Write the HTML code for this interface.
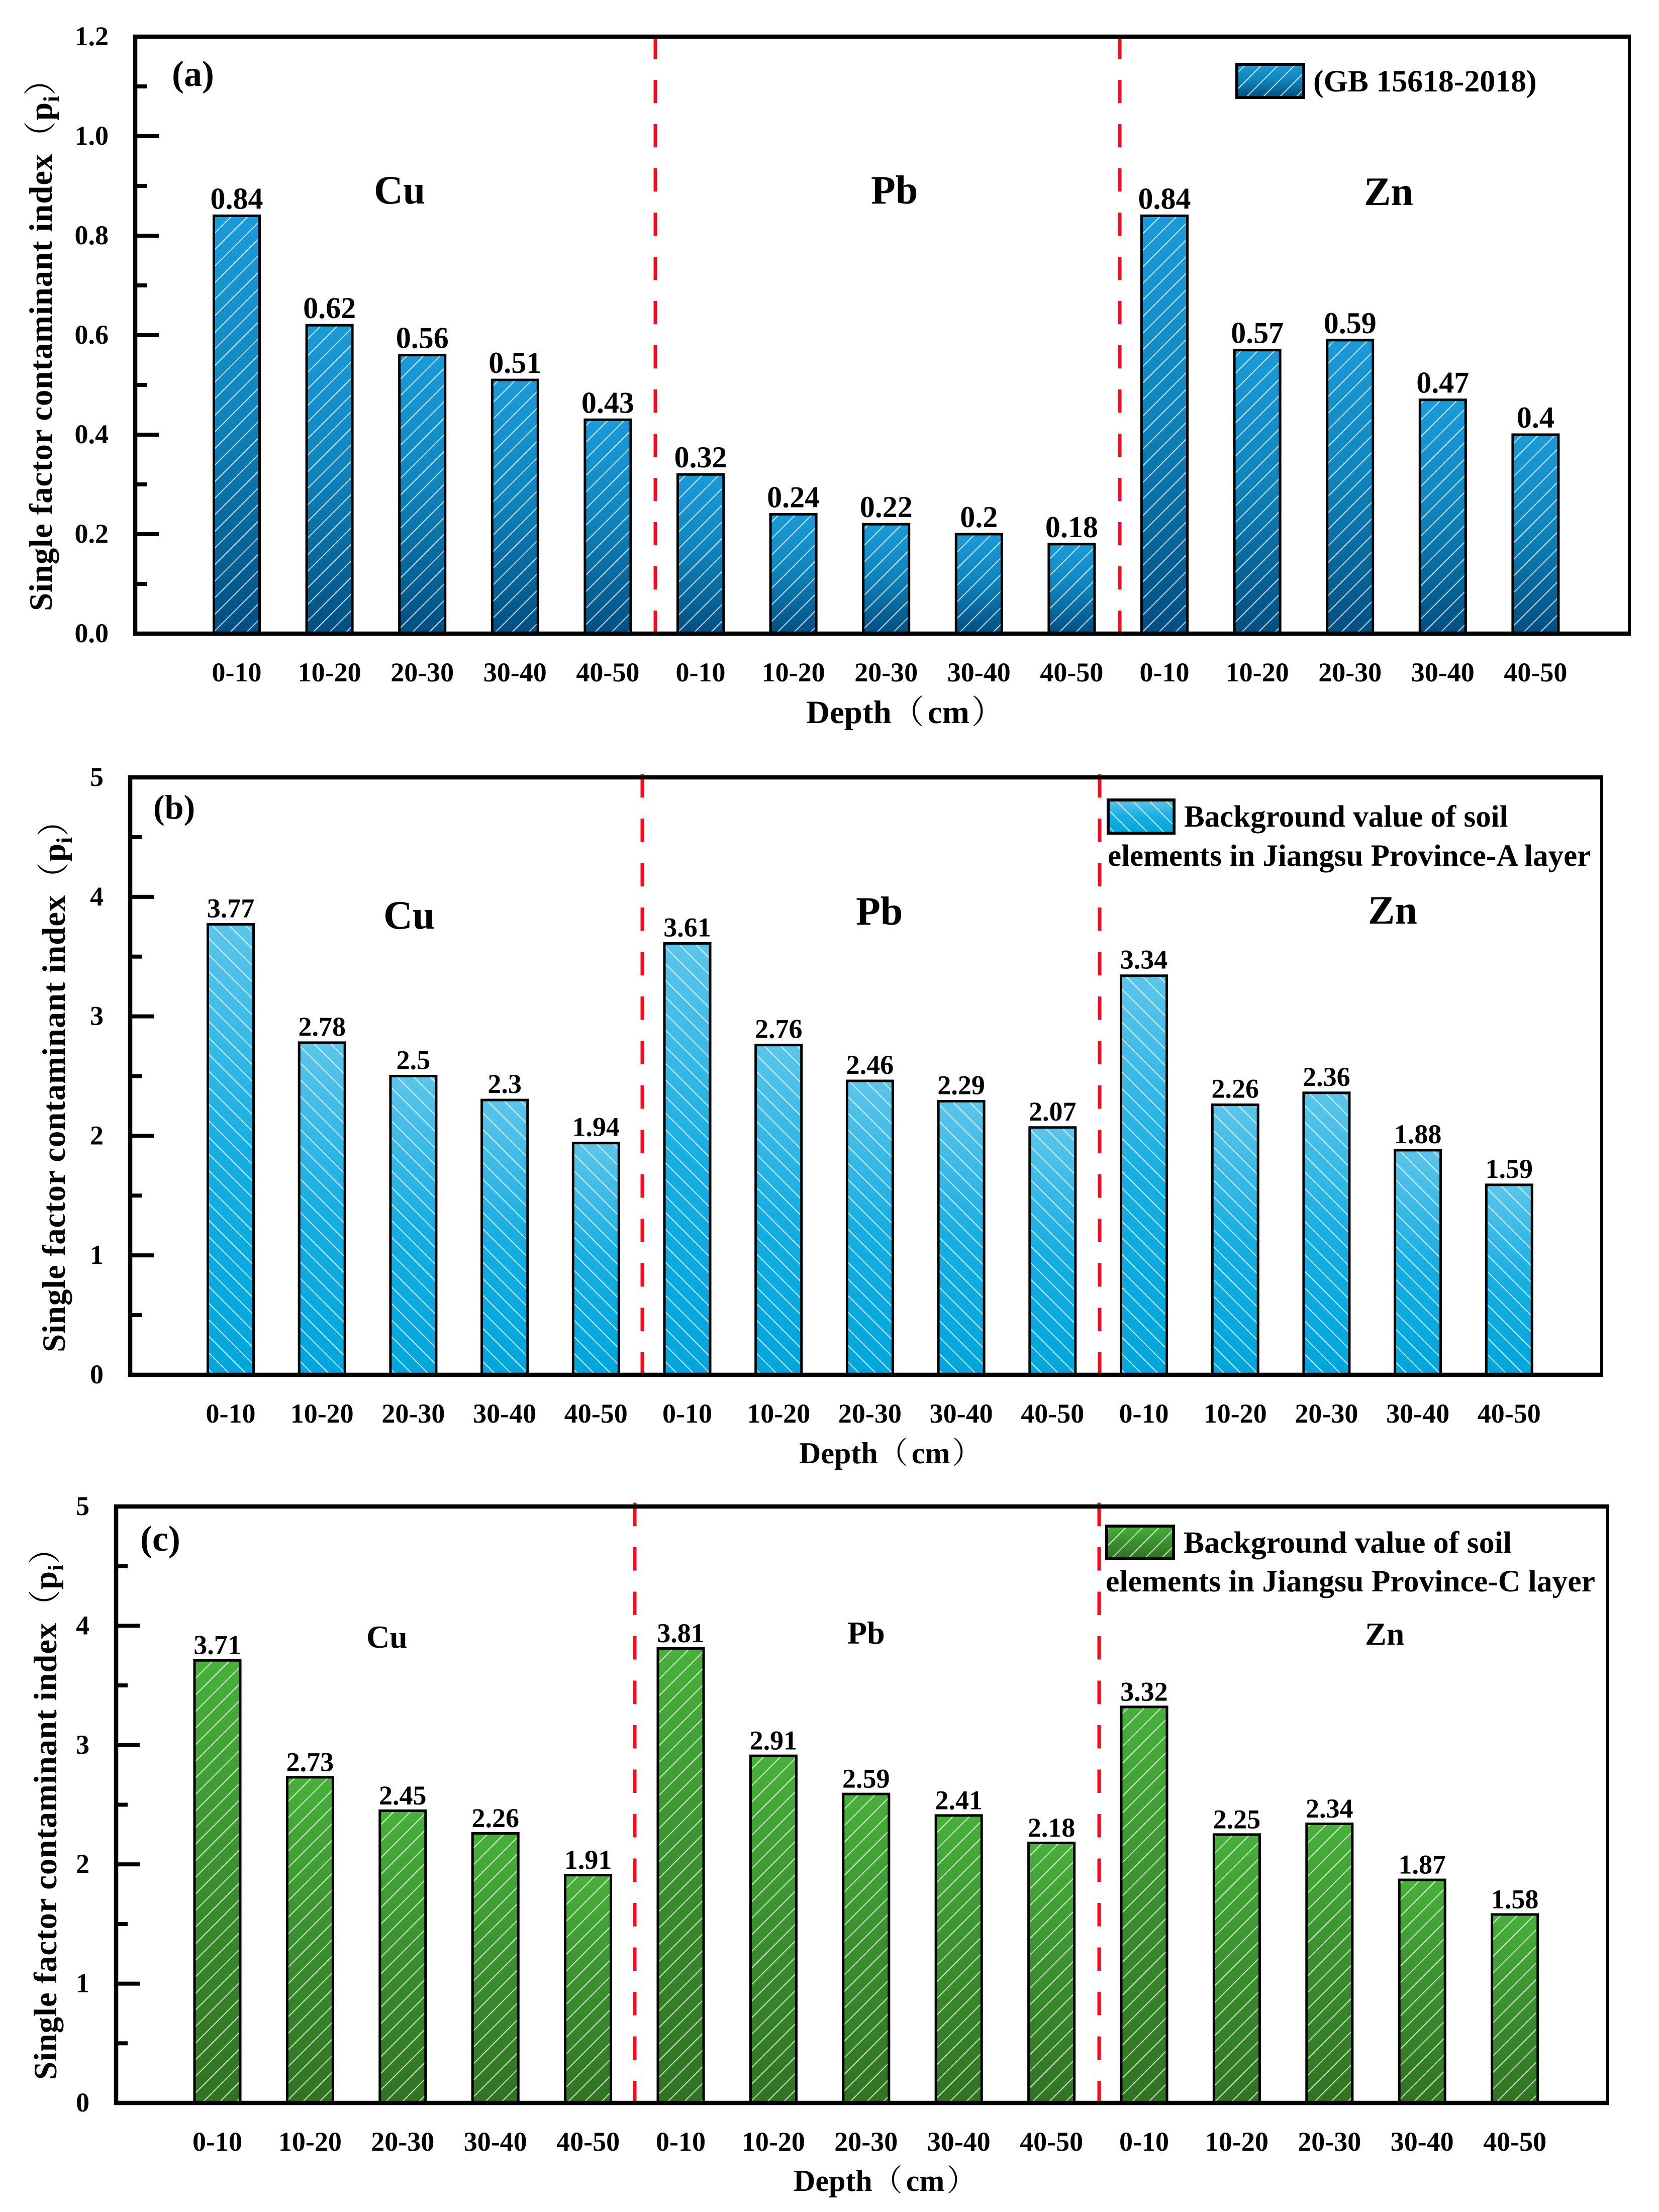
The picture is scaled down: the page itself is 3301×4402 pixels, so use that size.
<!DOCTYPE html>
<html lang="en">
<head>
<meta charset="utf-8">
<title>Single factor contaminant index by depth</title>
<style>
html,body{margin:0;padding:0;background:#fff;}
svg{display:block;}
text{font-family:"Liberation Serif","Noto Serif CJK SC",serif;font-weight:700;fill:#000;}
.cjk{font-family:"Noto Serif CJK SC","Liberation Serif",serif;font-weight:400;}
</style>
</head>
<body>
<svg id="figure" xmlns="http://www.w3.org/2000/svg" width="3301" height="4402" viewBox="0 0 3301 4402">
  <defs>
    <linearGradient id="grad-a" x1="0" y1="0" x2="0" y2="1"><stop offset="0" stop-color="#1b9bd9"/><stop offset="0.45" stop-color="#1086bd"/><stop offset="1" stop-color="#024f80"/></linearGradient>
    <linearGradient id="grad-b" x1="0" y1="0" x2="0" y2="1"><stop offset="0" stop-color="#5cc5ea"/><stop offset="0.5" stop-color="#17aee1"/><stop offset="1" stop-color="#00a6db"/></linearGradient>
    <linearGradient id="grad-c" x1="0" y1="0" x2="0" y2="1"><stop offset="0" stop-color="#48b03b"/><stop offset="0.5" stop-color="#3a8f2e"/><stop offset="1" stop-color="#307322"/></linearGradient>
    <pattern id="hatch-a" patternUnits="userSpaceOnUse" width="33" height="33"><path d="M-5 5L5 -5M0 33L33 0M28 38L38 28" stroke="#fff" stroke-opacity="0.72" stroke-width="2.1" fill="none"/></pattern>
    <pattern id="hatch-b" patternUnits="userSpaceOnUse" width="33" height="33"><path d="M-5 28L5 38M0 0L33 33M28 -5L38 5" stroke="#fff" stroke-opacity="0.72" stroke-width="2.1" fill="none"/></pattern>
    <pattern id="hatch-c" patternUnits="userSpaceOnUse" width="33" height="33"><path d="M-5 5L5 -5M0 33L33 0M28 38L38 28" stroke="#fff" stroke-opacity="0.72" stroke-width="2.1" fill="none"/></pattern>
  </defs>

  <!-- Panel A -->
  <g id="panel-a">
    <g id="marks-a"></g>
    <line x1="1304" x2="1304" y1="71" y2="1258" stroke="#fa0a1e" stroke-width="7" stroke-dasharray="46 42"/>
    <line x1="2228" x2="2228" y1="71" y2="1258" stroke="#fa0a1e" stroke-width="7" stroke-dasharray="46 42"/>
    <rect x="269" y="73" width="2973" height="1188" fill="none" stroke="#000" stroke-width="6"/>
    <path d="M265 73H3245M265 1261H3245M269 69V1265" fill="none" stroke="#000" stroke-width="8.5"/>
    <text x="342" y="171" font-size="72">(a)</text>
    <text x="744" y="405" font-size="80">Cu</text>
    <text x="1733" y="405" font-size="80">Pb</text>
    <text x="2714" y="408" font-size="80">Zn</text>
    <g>
      <rect x="2461" y="128" width="133" height="66" fill="url(#grad-a)"/>
      <rect x="2461" y="128" width="133" height="66" fill="url(#hatch-a)" stroke="#000" stroke-width="6"/>
      <text x="2613" y="182" font-size="61.8">(GB 15618-2018)</text>
    </g>
    <text transform="translate(103,1216) rotate(-90)" font-size="65" letter-spacing="0.8">Single factor contaminant index<tspan class="cjk">（</tspan>p<tspan dy="14" font-size="44">i</tspan><tspan dy="-14" class="cjk">）</tspan></text>
    <text x="1604" y="1439" font-size="65">Depth<tspan class="cjk">（</tspan><tspan dx="7">cm</tspan><tspan dx="4" class="cjk">）</tspan></text>
  </g>

  <!-- Panel B -->
  <g id="panel-b">
    <g id="marks-b"></g>
    <line x1="1278" x2="1278" y1="1540.5" y2="2733" stroke="#fa0a1e" stroke-width="7" stroke-dasharray="46.5 42"/>
    <line x1="2188" x2="2188" y1="1540.5" y2="2733" stroke="#fa0a1e" stroke-width="7" stroke-dasharray="46.5 42"/>
    <rect x="259" y="1547" width="2928" height="1189" fill="none" stroke="#000" stroke-width="6"/>
    <path d="M255 1547H3190M255 2736H3190M259 1543V2740" fill="none" stroke="#000" stroke-width="8.5"/>
    <text x="305" y="1629" font-size="68">(b)</text>
    <text x="763" y="1848" font-size="80">Cu</text>
    <text x="1703" y="1840" font-size="80">Pb</text>
    <text x="2722" y="1838" font-size="80">Zn</text>
    <g>
      <rect x="2205" y="1592" width="131" height="66" fill="url(#grad-b)"/>
      <rect x="2205" y="1592" width="131" height="66" fill="url(#hatch-b)" stroke="#000" stroke-width="6"/>
      <text x="2356" y="1645" font-size="61">Background value of soil</text>
      <text x="2204" y="1723" font-size="61">elements in Jiangsu Province-A layer</text>
    </g>
    <text transform="translate(129,2691) rotate(-90)" font-size="65" letter-spacing="0.8">Single factor contaminant index<tspan class="cjk">（</tspan>p<tspan dy="14" font-size="44">i</tspan><tspan dy="-14" class="cjk">）</tspan></text>
    <text x="1590" y="2912" font-size="60">Depth<tspan class="cjk">（</tspan><tspan dx="7">cm</tspan><tspan dx="4" class="cjk">）</tspan></text>
  </g>

  <!-- Panel C -->
  <g id="panel-c">
    <g id="marks-c"></g>
    <line x1="1263" x2="1263" y1="2990.5" y2="4182" stroke="#fa0a1e" stroke-width="7" stroke-dasharray="46.5 42"/>
    <line x1="2187" x2="2187" y1="2990.5" y2="4182" stroke="#fa0a1e" stroke-width="7" stroke-dasharray="46.5 42"/>
    <rect x="231" y="2998" width="2968" height="1187" fill="none" stroke="#000" stroke-width="6"/>
    <path d="M227 2998H3202M227 4185H3202M231 2994V4189" fill="none" stroke="#000" stroke-width="8.5"/>
    <text x="279" y="3086" font-size="72">(c)</text>
    <text x="729" y="3279" font-size="64">Cu</text>
    <text x="1686" y="3271" font-size="64">Pb</text>
    <text x="2716" y="3273" font-size="64">Zn</text>
    <g>
      <rect x="2202" y="3037" width="133" height="65" fill="url(#grad-c)"/>
      <rect x="2202" y="3037" width="133" height="65" fill="url(#hatch-c)" stroke="#000" stroke-width="6"/>
      <text x="2355" y="3090" font-size="61.8">Background value of soil</text>
      <text x="2200" y="3167" font-size="61.6">elements in Jiangsu Province-C layer</text>
    </g>
    <text transform="translate(112,4139) rotate(-90)" font-size="65" letter-spacing="0.8">Single factor contaminant index<tspan class="cjk">（</tspan>p<tspan dy="14" font-size="44">i</tspan><tspan dy="-14" class="cjk">）</tspan></text>
    <text x="1579" y="4360" font-size="60">Depth<tspan class="cjk">（</tspan><tspan dx="7">cm</tspan><tspan dx="4" class="cjk">）</tspan></text>
  </g>
</svg>

<script>
// ---------- Chart data ----------
const depthCategories = ['0-10', '10-20', '20-30', '30-40', '40-50',
                         '0-10', '10-20', '20-30', '30-40', '40-50',
                         '0-10', '10-20', '20-30', '30-40', '40-50'];

const valuesA = [0.84, 0.62, 0.56, 0.51, 0.43,
                 0.32, 0.24, 0.22, 0.2, 0.18,
                 0.84, 0.57, 0.59, 0.47, 0.4];
const valuesB = [3.77, 2.78, 2.5, 2.3, 1.94,
                 3.61, 2.76, 2.46, 2.29, 2.07,
                 3.34, 2.26, 2.36, 1.88, 1.59];
const valuesC = [3.71, 2.73, 2.45, 2.26, 1.91,
                 3.81, 2.91, 2.59, 2.41, 2.18,
                 3.32, 2.25, 2.34, 1.87, 1.58];

const tickValuesA = [0, 0.2, 0.4, 0.6, 0.8, 1.0, 1.2];
const tickLabelsA = ['0.0', '0.2', '0.4', '0.6', '0.8', '1.0', '1.2'];
const tickValuesBC = [0, 1, 2, 3, 4, 5];
const tickLabelsBC = ['0', '1', '2', '3', '4', '5'];

// ---------- Panel layouts (geometry only) ----------
const layoutA = {id: 'a', left: 269, top: 73, bottom: 1261, firstCenter: 471, pitch: 184.6, labelFont: 60, labelGap: 14, xBase: 1356};
const layoutB = {id: 'b', left: 259, top: 1547, bottom: 2736, firstCenter: 459, pitch: 181.7, labelFont: 54, labelGap: 14, xBase: 2831};
const layoutC = {id: 'c', left: 231, top: 2998, bottom: 4185, firstCenter: 432.5, pitch: 184.4, labelFont: 54, labelGap: 12.5, xBase: 4280};

const SVG_NS = 'http://www.w3.org/2000/svg';

function shape(parent, tag, geometry) {
  const el = document.createElementNS(SVG_NS, tag);
  for (const key in geometry) el.setAttribute(key, geometry[key]);
  parent.appendChild(el);
  return el;
}

function drawPanel(layout, values, tickValues, tickLabels) {
  const group = document.getElementById('marks-' + layout.id);
  const yMax = tickValues[tickValues.length - 1];
  const yScale = v => layout.bottom - (v / yMax) * (layout.bottom - layout.top);
  const xScale = i => layout.firstCenter + i * layout.pitch;
  const barWidth = 91;

  values.forEach((value, i) => {
    const cx = xScale(i);
    const topY = yScale(value);
    const h = layout.bottom - topY;

    const fill = shape(group, 'rect', {x: cx - barWidth / 2, y: topY, width: barWidth, height: h, fill: 'url(#grad-' + layout.id + ')'});
    
    

    const hatch = shape(group, 'rect', {x: cx - barWidth / 2, y: topY, width: barWidth, height: h, fill: 'url(#hatch-' + layout.id + ')', stroke: '#000', 'stroke-width': 5});
    
    

    const valueLabel = shape(group, 'text', {x: cx, y: topY - layout.labelGap, 'text-anchor': 'middle', 'font-size': layout.labelFont});
    valueLabel.textContent = String(value);
    
    

    const catLabel = shape(group, 'text', {x: cx, y: layout.xBase, 'text-anchor': 'middle', 'font-size': 54});
    catLabel.textContent = depthCategories[i];
    
    
  });

  tickValues.forEach((tick, i) => {
    const y = yScale(tick);
    const major = shape(group, 'rect', {x: layout.left, y: y - 4, width: 47, height: 8, fill: '#000'});
    
    

    const label = shape(group, 'text', {x: layout.left - 53, y: y + 17, 'text-anchor': 'end', 'font-size': 54});
    label.textContent = tickLabels[i];
    
    

    if (i < tickValues.length - 1) {
      const minorY = yScale((tick + tickValues[i + 1]) / 2);
      const minor = shape(group, 'rect', {x: layout.left, y: minorY - 4, width: 23, height: 8, fill: '#000'});
      
      
    }
  });
}

drawPanel(layoutA, valuesA, tickValuesA, tickLabelsA);
drawPanel(layoutB, valuesB, tickValuesBC, tickLabelsBC);
drawPanel(layoutC, valuesC, tickValuesBC, tickLabelsBC);
</script>
</body>
</html>
